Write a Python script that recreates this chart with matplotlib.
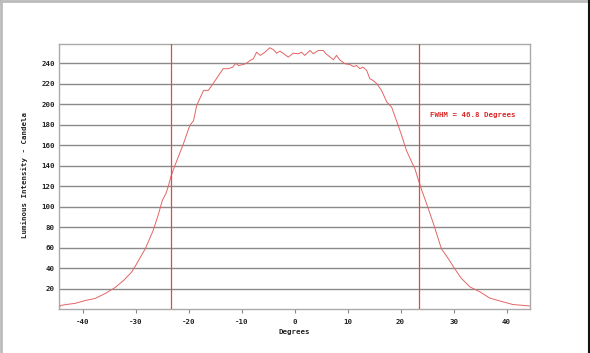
import numpy as np
import matplotlib.pyplot as plt
from matplotlib.lines import Line2D

# angle (degrees) and luminous intensity (candela)
degrees = [-44.5, -44.2, -43.0, -41.5, -39.3, -37.7, -35.8, -33.9, -32.3, -30.8,
           -30.1, -29.2, -28.2, -26.7, -25.7, -25.0, -24.3, -23.8, -23.4, -22.6,
           -21.0, -19.8, -19.1, -18.5, -17.2, -16.3, -15.0, -13.5, -12.5, -11.7,
           -11.1, -10.6, -9.7, -9.1, -8.4, -7.8, -7.2, -6.5, -5.6, -4.7,
           -4.0, -3.4, -2.8, -2.2, -1.2, -0.3, 0.7, 1.3, 1.9, 2.9,
           3.5, 4.5, 5.4, 5.9, 6.7, 7.3, 7.9, 8.5, 9.5, 10.4,
           11.1, 11.7, 12.3, 12.9, 13.6, 14.2, 14.8, 15.5, 16.4, 17.4,
           18.3, 19.2, 20.2, 21.1, 22.1, 22.7, 23.3, 24.0, 24.9, 26.2,
           27.7, 29.0, 30.2, 31.5, 33.1, 35.0, 36.8, 38.7, 41.2, 44.4]
candela = [0.5, 3.5, 4.5, 5.5, 8.6, 10.3, 15.1, 21.0, 28.0, 36.0,
           41.8, 50.0, 59.0, 77.0, 93.0, 106.0, 113.0, 121.0, 129.0, 140.4,
           161.6, 179.5, 184.0, 199.0, 213.7, 213.7, 223.4, 234.9, 234.9, 236.4,
           240.3, 238.0, 239.0, 240.3, 243.0, 244.6, 251.0, 247.9, 251.0, 255.4,
           253.4, 250.0, 252.0, 250.0, 246.2, 250.0, 249.5, 251.0, 247.9, 252.7,
           249.5, 252.7, 252.7, 249.5, 246.2, 243.6, 247.9, 243.6, 239.7, 239.0,
           237.0, 238.0, 234.9, 236.4, 233.2, 225.0, 223.4, 220.2, 213.7, 202.2,
           197.4, 184.4, 169.7, 155.0, 143.6, 137.2, 127.0, 116.0, 103.0, 83.5,
           59.0, 49.3, 39.5, 29.8, 21.6, 16.7, 10.8, 7.9, 4.4, 3.0]
fwhm_edges = [-23.4, 23.4]
fwhm_label = "FWHM = 46.8 Degrees"

mono = "DejaVu Sans Mono"
fs = 5.3
plt.rcParams["axes.unicode_minus"] = False

fig = plt.figure(figsize=(5.9, 3.53), dpi=100)
ax = fig.add_axes([0.1, 0.1246, 0.798, 0.7507])

ax.set_xlim(-44.5, 44.4)
ax.set_ylim(0, 259)
ax.set_yticks(np.arange(20, 241, 20))
ax.set_xticks(np.arange(-40, 41, 10))
ax.grid(axis="y", color="#8a8a8a", linewidth=1.0)
ax.set_axisbelow(True)

for s in ax.spines.values():
    s.set_color("#aaaaaa")
    s.set_linewidth(1.0)

ax.plot(degrees, candela, color="#e46464", linewidth=0.7)
for e in fwhm_edges:
    ax.axvline(e, color="#ee4444", linewidth=0.9, zorder=3)

ax.text(25.5, 190, fwhm_label, color="#d92b2b", fontsize=fs,
        family=mono, va="center", fontweight="bold")

ax.tick_params(axis="y", length=0, pad=3, labelsize=fs, labelcolor="#222222")
ax.tick_params(axis="x", length=3, width=0.8, color="#888888", pad=4,
               labelsize=fs, labelcolor="#222222")
for lab in ax.get_xticklabels() + ax.get_yticklabels():
    lab.set_family(mono)
    lab.set_fontweight("bold")

ax.set_xlabel("Degrees", fontsize=fs, family=mono, fontweight="bold",
              color="#222222", labelpad=3)
fig.text(0.042, 0.504, "Luminous Intensity - Candela", rotation=90,
         fontsize=fs, family=mono, fontweight="bold", color="#222222",
         ha="center", va="center")

# scan frame edges
fig.add_artist(Line2D([0.002, 0.002], [0, 1], color="#bbbbbb", linewidth=2,
                      transform=fig.transFigure))
fig.add_artist(Line2D([0, 1], [0.998, 0.998], color="#bbbbbb", linewidth=2,
                      transform=fig.transFigure))
fig.add_artist(Line2D([0.9975, 0.9975], [0, 1], color="#111111", linewidth=1.5,
                      transform=fig.transFigure))

fig.savefig("out.png", dpi=100)
